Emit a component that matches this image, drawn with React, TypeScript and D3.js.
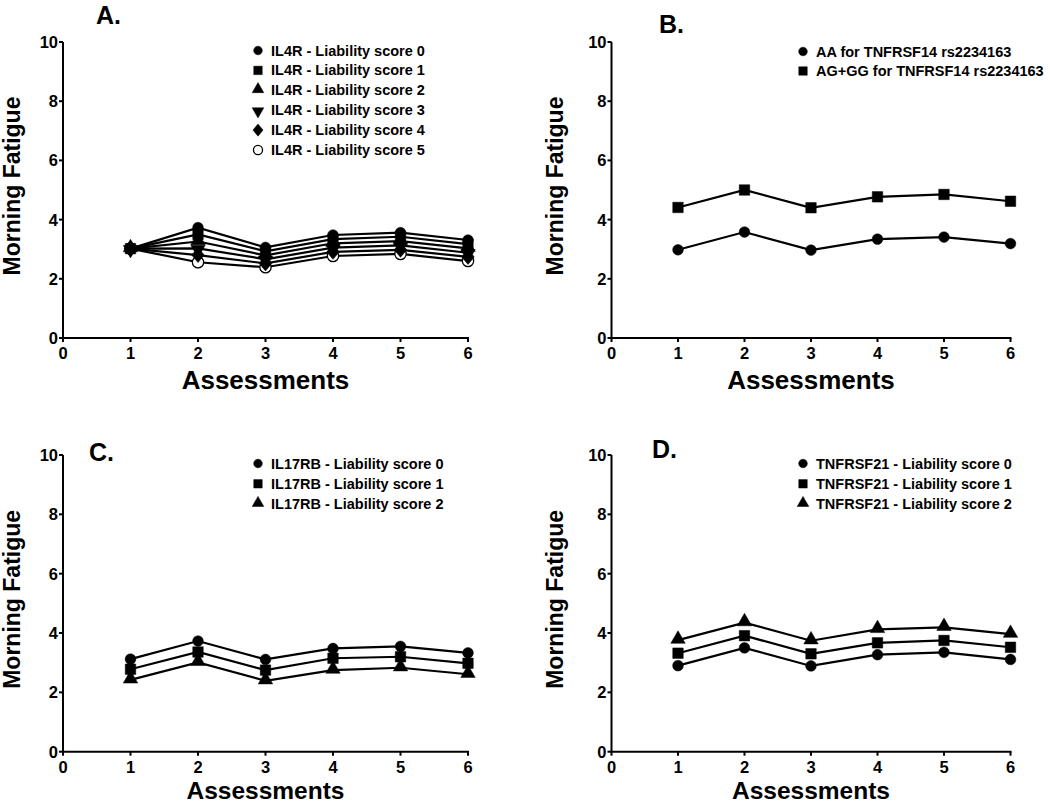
import React from 'react';
import * as d3 from 'd3';

// ---------- data ----------
const assessments = [1, 2, 3, 4, 5, 6];
const xTicks = [0, 1, 2, 3, 4, 5, 6];
const yTicks = [0, 2, 4, 6, 8, 10];

// Panel A: IL4R liability scores 0..5
const il4rScore0 = [3.02, 3.73, 3.06, 3.48, 3.56, 3.31];
const il4rScore1 = [3.02, 3.50, 2.93, 3.34, 3.42, 3.17];
const il4rScore2 = [3.02, 3.26, 2.79, 3.20, 3.27, 3.03];
const il4rScore3 = [3.02, 3.03, 2.66, 3.05, 3.13, 2.88];
const il4rScore4 = [3.02, 2.80, 2.52, 2.91, 2.98, 2.74];
const il4rScore5 = [3.02, 2.56, 2.39, 2.77, 2.84, 2.60];
const il4rLabels = [
  'IL4R - Liability score 0',
  'IL4R - Liability score 1',
  'IL4R - Liability score 2',
  'IL4R - Liability score 3',
  'IL4R - Liability score 4',
  'IL4R - Liability score 5',
];

// Panel B: TNFRSF14 rs2234163
const tnfrsf14AA = [2.98, 3.58, 2.97, 3.34, 3.41, 3.19];
const tnfrsf14AGGG = [4.41, 5.00, 4.40, 4.77, 4.85, 4.62];
const tnfrsf14Labels = ['AA for TNFRSF14 rs2234163', 'AG+GG for TNFRSF14 rs2234163'];

// Panel C: IL17RB liability scores
const il17rbScore0 = [3.12, 3.73, 3.11, 3.48, 3.55, 3.33];
const il17rbScore1 = [2.78, 3.36, 2.75, 3.15, 3.20, 2.98];
const il17rbScore2 = [2.42, 3.01, 2.39, 2.75, 2.83, 2.61];
const il17rbLabels = [
  'IL17RB - Liability score 0',
  'IL17RB - Liability score 1',
  'IL17RB - Liability score 2',
];

// Panel D: TNFRSF21 liability scores
const tnfrsf21Score0 = [2.90, 3.50, 2.89, 3.27, 3.35, 3.11];
const tnfrsf21Score1 = [3.32, 3.91, 3.30, 3.67, 3.75, 3.52];
const tnfrsf21Score2 = [3.76, 4.35, 3.74, 4.12, 4.19, 3.96];
const tnfrsf21Labels = [
  'TNFRSF21 - Liability score 0',
  'TNFRSF21 - Liability score 1',
  'TNFRSF21 - Liability score 2',
];

// ---------- drawing ----------
const FONT = '"Liberation Sans", Arial, Helvetica, sans-serif';

type Shape = 'circle' | 'square' | 'triangle' | 'triangleDown' | 'diamond' | 'circleOpen';

interface Series {
  values: number[];
  shape: Shape;
  label: string;
}

function symbolFor(shape: Shape, size: number): string {
  let t: d3.SymbolType = d3.symbolCircle;
  if (shape === 'square') t = d3.symbolSquare;
  else if (shape === 'triangle' || shape === 'triangleDown') t = d3.symbolTriangle;
  else if (shape === 'diamond') t = d3.symbolDiamond;
  return d3.symbol().type(t).size(size)() || '';
}

const sizeFor: Record<Shape, number> = {
  circle: 90,
  square: 110,
  triangle: 90,
  triangleDown: 90,
  diamond: 80,
  circleOpen: 100,
};

function Marker({ x, y, shape, scale = 1 }: { x: number; y: number; shape: Shape; scale?: number }) {
  const d = symbolFor(shape, sizeFor[shape] * scale);
  const rot = shape === 'triangleDown' ? ' rotate(180)' : '';
  const tri = shape === 'triangle' ? -1 : shape === 'triangleDown' ? 1 : 0;
  const sx = shape === 'diamond' ? ' scale(1.3,0.9)' : '';
  return (
    <path
      d={d}
      transform={`translate(${x},${y + tri})${rot}${sx}`}
      fill={shape === 'circleOpen' ? '#fff' : '#000'}
      stroke="#000"
      strokeWidth={shape === 'circleOpen' ? 1.3 : 0.5}
    />
  );
}

interface PanelProps {
  xLeft: number;
  xRight: number;
  yTop: number;
  yBottom: number;
  title: string;
  titleX: number;
  titleY: number;
  series: Series[];
  order: number[];
  legendMarkerX: number;
  legendTextX: number;
  legendY0: number;
  legendStep: number;
  yLabelX: number;
  xLabelY: number;
  xLabelSize: number;
}

function Panel(p: PanelProps) {
  const x = d3.scaleLinear().domain([0, 6]).range([p.xLeft, p.xRight]);
  const y = d3.scaleLinear().domain([0, 10]).range([p.yBottom, p.yTop]);
  const line = d3
    .line<number>()
    .x((_, i) => x(assessments[i]))
    .y((v) => y(v));
  const xMid = (p.xLeft + p.xRight) / 2;
  const yMid = (p.yTop + p.yBottom) / 2;
  return (
    <g fontFamily={FONT} fontWeight="bold" fill="#000">
      <text x={p.titleX} y={p.titleY} fontSize={25}>
        {p.title}
      </text>
      {/* axes */}
      <line x1={p.xLeft} x2={p.xLeft} y1={p.yTop} y2={p.yBottom + 1} stroke="#000" strokeWidth={2} />
      <line x1={p.xLeft - 1} x2={p.xRight + 1} y1={p.yBottom} y2={p.yBottom} stroke="#000" strokeWidth={2} />
      {yTicks.map((t) => (
        <g key={'y' + t}>
          <line x1={p.xLeft - 4} x2={p.xLeft} y1={y(t)} y2={y(t)} stroke="#000" strokeWidth={2} />
          <text x={p.xLeft - 5} y={y(t) + 6} fontSize={16.5} textAnchor="end">
            {t}
          </text>
        </g>
      ))}
      {xTicks.map((t) => (
        <g key={'x' + t}>
          <line x1={x(t)} x2={x(t)} y1={p.yBottom} y2={p.yBottom + 4} stroke="#000" strokeWidth={2} />
          <text x={x(t)} y={p.yBottom + 21} fontSize={16.5} textAnchor="middle">
            {t}
          </text>
        </g>
      ))}
      <text x={xMid} y={p.xLabelY} fontSize={p.xLabelSize} textAnchor="middle">
        Assessments
      </text>
      <text
        transform={`translate(${p.yLabelX},${yMid - 4}) rotate(-90)`}
        fontSize={23}
        textAnchor="middle"
      >
        Morning Fatigue
      </text>
      {/* lines */}
      {p.series.map((s, i) => (
        <path key={'l' + i} d={line(s.values) || ''} fill="none" stroke="#000" strokeWidth={2.2} />
      ))}
      {/* markers */}
      {p.order.map((i) =>
        p.series[i].values.map((v, j) => (
          <Marker key={`m${i}-${j}`} x={x(assessments[j])} y={y(v)} shape={p.series[i].shape} />
        ))
      )}
      {/* legend */}
      {p.series.map((s, i) => (
        <g key={'lg' + i}>
          <Marker x={p.legendMarkerX} y={p.legendY0 + i * p.legendStep} shape={s.shape} scale={0.65} />
          <text x={p.legendTextX} y={p.legendY0 + i * p.legendStep + 5} fontSize={14.5}>
            {s.label}
          </text>
        </g>
      ))}
    </g>
  );
}

export default function App() {
  const seriesA: Series[] = [
    { values: il4rScore0, shape: 'circle', label: il4rLabels[0] },
    { values: il4rScore1, shape: 'square', label: il4rLabels[1] },
    { values: il4rScore2, shape: 'triangle', label: il4rLabels[2] },
    { values: il4rScore3, shape: 'triangleDown', label: il4rLabels[3] },
    { values: il4rScore4, shape: 'diamond', label: il4rLabels[4] },
    { values: il4rScore5, shape: 'circleOpen', label: il4rLabels[5] },
  ];
  const seriesB: Series[] = [
    { values: tnfrsf14AA, shape: 'circle', label: tnfrsf14Labels[0] },
    { values: tnfrsf14AGGG, shape: 'square', label: tnfrsf14Labels[1] },
  ];
  const seriesC: Series[] = [
    { values: il17rbScore0, shape: 'circle', label: il17rbLabels[0] },
    { values: il17rbScore1, shape: 'square', label: il17rbLabels[1] },
    { values: il17rbScore2, shape: 'triangle', label: il17rbLabels[2] },
  ];
  const seriesD: Series[] = [
    { values: tnfrsf21Score0, shape: 'circle', label: tnfrsf21Labels[0] },
    { values: tnfrsf21Score1, shape: 'square', label: tnfrsf21Labels[1] },
    { values: tnfrsf21Score2, shape: 'triangle', label: tnfrsf21Labels[2] },
  ];
  return (
    <svg
      width={1050}
      height={804}
      style={{ position: 'absolute', left: 0, top: 0, background: '#fff' }}
    >
      <rect width={1050} height={804} fill="#fff" />
      <Panel
        xLeft={63}
        xRight={468}
        yTop={42}
        yBottom={338}
        title="A."
        titleX={96}
        titleY={24}
        series={seriesA}
        order={[5, 4, 3, 2, 0, 1]}
        legendMarkerX={258}
        legendTextX={271}
        legendY0={50.5}
        legendStep={19.9}
        yLabelX={20}
        xLabelY={389}
        xLabelSize={26}
      />
      <Panel
        xLeft={611.5}
        xRight={1010.5}
        yTop={42}
        yBottom={338}
        title="B."
        titleX={659}
        titleY={33}
        series={seriesB}
        order={[0, 1]}
        legendMarkerX={803}
        legendTextX={816}
        legendY0={51.5}
        legendStep={19.5}
        yLabelX={563}
        xLabelY={389}
        xLabelSize={26}
      />
      <Panel
        xLeft={63}
        xRight={468}
        yTop={455}
        yBottom={751.7}
        title="C."
        titleX={89}
        titleY={461}
        series={seriesC}
        order={[0, 1, 2]}
        legendMarkerX={258}
        legendTextX={271}
        legendY0={463.5}
        legendStep={20.3}
        yLabelX={20}
        xLabelY={799}
        xLabelSize={24.5}
      />
      <Panel
        xLeft={611.5}
        xRight={1010.5}
        yTop={455}
        yBottom={751.7}
        title="D."
        titleX={652}
        titleY={458}
        series={seriesD}
        order={[0, 1, 2]}
        legendMarkerX={803}
        legendTextX={816}
        legendY0={463.5}
        legendStep={20.3}
        yLabelX={563}
        xLabelY={799}
        xLabelSize={24.5}
      />
    </svg>
  );
}
